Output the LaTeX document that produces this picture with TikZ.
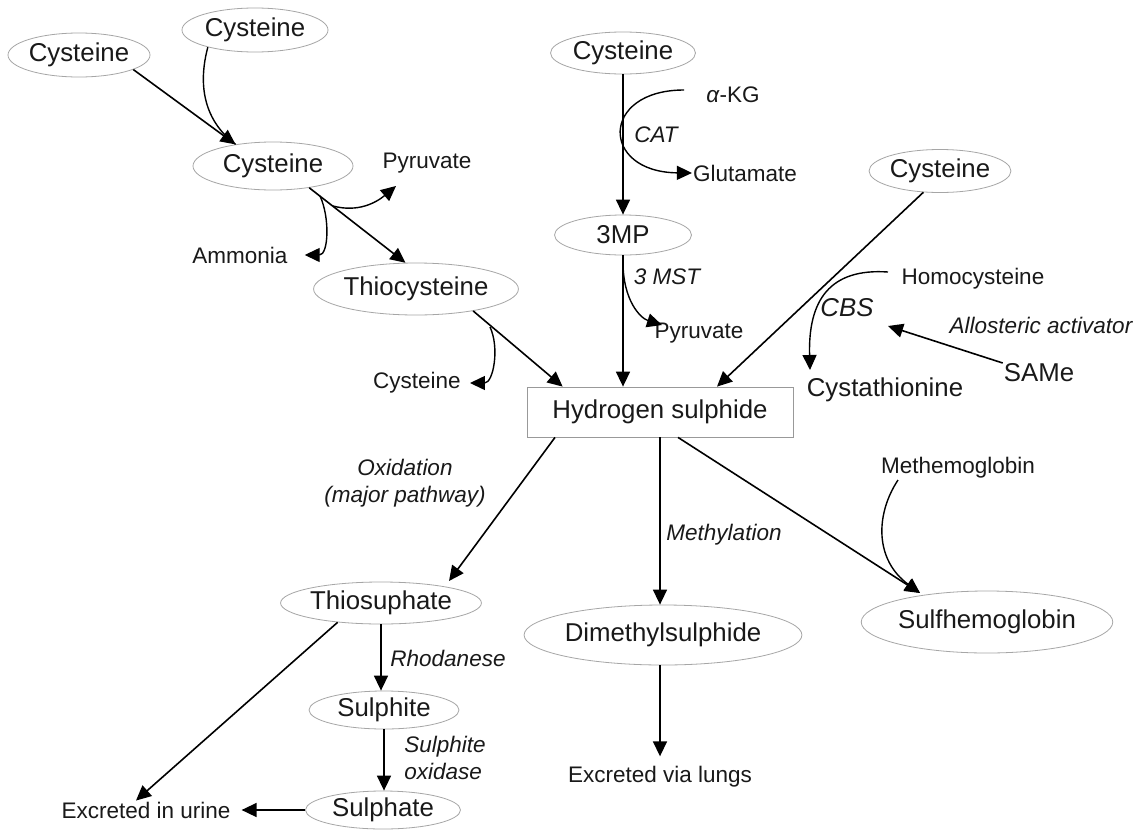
\documentclass[tikz,border=0pt]{standalone}
\usepackage{fontspec}
\setmainfont{Liberation Sans}
\usetikzlibrary{shapes.geometric,arrows.meta}

\newcommand{\bigtxt}{\fontsize{25.8}{30}\selectfont}
\newcommand{\smalltxt}{\fontsize{22.5}{27}\selectfont}

\tikzstyle{mol} = [ellipse, draw=black!35, line width=0.8pt, font=\bigtxt, text=black!90, inner sep=0pt]
\tikzstyle{txt} = [font=\smalltxt, text=black!90, inner sep=1pt]
\tikzstyle{big} = [font=\bigtxt, text=black!90, inner sep=1pt]
\tikzstyle{enz} = [font=\smalltxt\itshape, text=black!90, inner sep=1pt]
\tikzstyle{arr} = [line width=1.6pt, -{Triangle[length=15pt,width=14pt]}]
\tikzstyle{ln} = [line width=1.4pt]

\begin{document}
\begin{tikzpicture}[x=1pt,y=-1pt]
  \useasboundingbox[fill=white] (0,0) rectangle (1138,830);
  % metabolites
  \node[mol, minimum width=142pt, minimum height=44pt] (cysA) at (79,55) {Cysteine};
  \node[mol, minimum width=146pt, minimum height=44pt] (cysB) at (255,30) {Cysteine};
  \node[mol, minimum width=160pt, minimum height=48pt] (cysC) at (273,166) {Cysteine};
  \node[mol, minimum width=176pt, minimum height=52pt] (thiocys) at (416,289) {Thiocysteine};
  \node[mol, minimum width=145pt, minimum height=42pt] (cysE) at (623,53) {Cysteine};
  \node[mol, minimum width=137pt, minimum height=40pt] (mp) at (623,235) {3MP};
  \node[mol, minimum width=140pt, minimum height=43pt] (cysF) at (940,171) {Cysteine};
  \node[draw=black!40, line width=0.8pt, font=\bigtxt, text=black!90,
        minimum width=266pt, minimum height=50pt] (hs) at (660,412) {Hydrogen sulphide};
  \node[mol, minimum width=186pt, minimum height=42pt] (thio) at (381,603) {Thiosuphate};
  \node[mol, minimum width=150pt, minimum height=38pt] (sulphite) at (384,710) {Sulphite};
  \node[mol, minimum width=155pt, minimum height=38pt] (sulphate) at (383,810) {Sulphate};
  \node[mol, minimum width=245pt, minimum height=60pt] (dms) at (663,635) {Dimethylsulphide};
  \node[mol, minimum width=205pt, minimum height=62pt] (sulfhem) at (987,622) {Sulfhemoglobin};

  % side products and enzymes
  \node[txt] (pyrA) at (427,163) {Pyruvate};
  \node[txt] (ammonia) at (240,255) {Ammonia};
  \node[txt] (cysD) at (417,383) {Cysteine};
  \node[txt] (akg) at (733,95) {\textit{α}-KG};
  \node[enz] (cat) at (656,135) {CAT};
  \node[txt] (glut) at (745,173) {Glutamate};
  \node[enz] (mst) at (667,277) {3 MST};
  \node[txt] (pyrB) at (699,333) {Pyruvate};
  \node[txt] (homocys) at (973,279) {Homocysteine};
  \node[enz, font=\bigtxt\itshape] (cbs) at (847,308) {CBS};
  \node[enz] (allo) at (1041,325) {Allosteric activator};
  \node[big] (same) at (1039,373) {SAMe};
  \node[big] (cysta) at (885,390) {Cystathionine};
  \node[enz, align=center] (oxid) at (405,483) {Oxidation\\(major pathway)};
  \node[enz] (methyl) at (724,535) {Methylation};
  \node[txt] (methem) at (958,468) {Methemoglobin};
  \node[enz] (rhod) at (448,658) {Rhodanese};
  \node[enz, align=left] (sox) at (445,758) {Sulphite\\oxidase};
  \node[txt] (urine) at (146,810) {Excreted in urine};
  \node[txt] (lungs) at (660,777) {Excreted via lungs};

  \coordinate (b1) at (333,206);
  \coordinate (b2) at (320,196);
  \coordinate (b3) at (490,327);
  \coordinate (b4) at (684,90);
  \coordinate (b5) at (623,262);
  \coordinate (b6) at (888,272);
  \coordinate (b7) at (898,480);
  \coordinate (t1) at (396,186);
  \coordinate (t2) at (662,325);
  \coordinate (t3) at (810,370);
  \coordinate (t4) at (888,326);
  \coordinate (t5) at (449,581);
  \coordinate (t6) at (920,593);

  \draw[arr] (cysA.-15) -- (cysC.150);
  \draw[ln] (cysB.-160) to[out=-105,in=143] (cysC.150);
  \draw[arr] (cysC.-31) -- (thiocys.112);
  \draw[arr, ln] (b1) to[out=-15,in=-140] (t1);
  \draw[arr, ln] (b2) to[out=-65,in=0] ([xshift=16pt]ammonia.east);
  \draw[arr] (thiocys.-21) -- ([xshift=36pt]hs.north west);
  \draw[arr, ln] (b3) to[out=-65,in=0] ([xshift=8pt]cysD.east);
  \draw[arr] (cysE) -- (mp);
  \draw[arr, ln] (b4) .. controls (600,90) and (600,172) .. (glut.west);
  \draw[arr] (mp) -- (mp |- hs.north);
  \draw[arr, ln] (b5) .. controls (623,300) and (640,318) .. (t2);
  \draw[arr] (cysF.-128) -- ([xshift=57pt]hs.north);
  \draw[arr, ln] (b6) .. controls (830,268) and (808,300) .. (t3);
  \draw[arr] ([yshift=10pt]same.west) -- (t4);
  \draw[arr] ([xshift=-105pt]hs.south) -- (t5);
  \draw[arr] (thio.south) -- (thio.south |- sulphite.north);
  \draw[arr] (sulphite.south) -- (sulphite.south |- sulphate.north);
  \draw[arr] (sulphate.west) -- ([xshift=10pt]urine.east);
  \draw[arr] (thio.-156) -- ([xshift=-10pt]urine.north);
  \draw[arr] (hs.south) -- (hs.south |- dms.north);
  \draw[arr] (lungs |- dms.south) -- ([yshift=9pt]lungs.north);
  \draw[arr] ([xshift=18pt]hs.south) -- (t6);
  \draw[arr, ln] (b7) .. controls (875,515) and (875,560) .. (t6);
\end{tikzpicture}
\end{document}
